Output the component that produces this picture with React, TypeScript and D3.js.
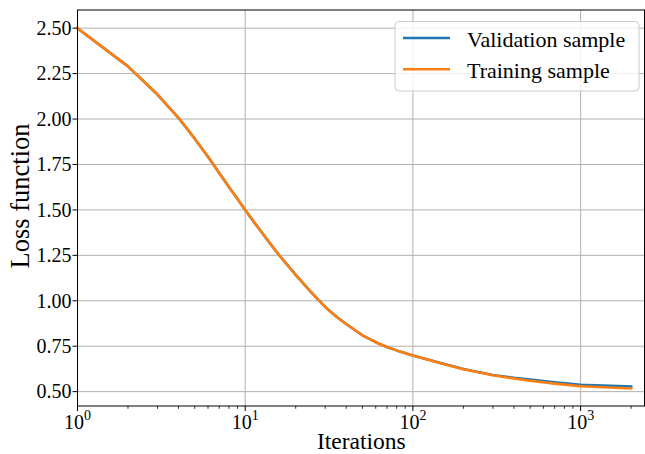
import React from "react";
import * as d3 from "d3";

const iterations = [1, 2, 3, 4, 5, 6, 7, 8, 9, 10, 12, 14, 16, 20, 25, 30, 35, 40, 50, 60, 70, 80, 100, 150, 200, 300, 400, 500, 700, 1000, 2000];
const trainingLoss = [2.5, 2.29, 2.135, 2.007, 1.892, 1.792, 1.703, 1.626, 1.56, 1.5, 1.4, 1.318, 1.249, 1.143, 1.042, 0.966, 0.912, 0.872, 0.81, 0.772, 0.746, 0.727, 0.699, 0.654, 0.623, 0.59, 0.572, 0.56, 0.544, 0.53, 0.518];
const validationLoss = [2.5, 2.29, 2.135, 2.007, 1.892, 1.792, 1.703, 1.626, 1.56, 1.5, 1.4, 1.318, 1.249, 1.143, 1.042, 0.966, 0.912, 0.872, 0.81, 0.772, 0.746, 0.727, 0.699, 0.655, 0.625, 0.592, 0.576, 0.566, 0.551, 0.538, 0.528];
const yTicks = [0.5, 0.75, 1.0, 1.25, 1.5, 1.75, 2.0, 2.25, 2.5];
const xMajorTicks = [1, 10, 100, 1000];
const xMajorExponents = ["0", "1", "2", "3"];
const seriesNames = ["Validation sample", "Training sample"];
const seriesColors = ["#1f77b4", "#ff7f0e"];

const W = 645;
const H = 454;
const M = { left: 77.5, right: 645, top: 10, bottom: 406 };
const FONT = "'Liberation Serif', 'Times New Roman', serif";

export default function App() {
  const x = d3.scaleLog().domain([1, 2420]).range([M.left, M.right]);
  const y = d3.scaleLinear().domain([0.421, 2.6]).range([M.bottom, M.top]);

  const minorTicks: number[] = [];
  for (let dec = 1; dec <= 1000; dec *= 10) {
    for (let k = 2; k <= 9; k++) {
      const v = dec * k;
      if (v <= 2420) minorTicks.push(v);
    }
  }

  const line = d3
    .line<number>()
    .x((_, i) => x(iterations[i]))
    .y((d) => y(d));

  const series = [validationLoss, trainingLoss];

  return (
    <svg width={W} height={H} style={{ position: "absolute", left: 0, top: 0 }} fontFamily={FONT}>
      <rect x={0} y={0} width={W} height={H} fill="white" />
      {/* grid */}
      {xMajorTicks.map((t) => (
        <line key={"gx" + t} x1={x(t)} x2={x(t)} y1={M.top} y2={M.bottom} stroke="#b0b0b0" strokeWidth={1} />
      ))}
      {yTicks.map((t) => (
        <line key={"gy" + t} x1={M.left} x2={M.right} y1={y(t)} y2={y(t)} stroke="#b0b0b0" strokeWidth={1} />
      ))}
      {/* lines */}
      {series.map((s, i) => (
        <path key={"s" + i} d={line(s) || ""} fill="none" stroke={seriesColors[i]} strokeWidth={2.6} strokeLinejoin="round" strokeLinecap="square" />
      ))}
      {/* spines */}
      <rect x={M.left} y={M.top} width={M.right - M.left - 0.5} height={M.bottom - M.top} fill="none" stroke="#000" strokeWidth={1} />
      {/* y ticks */}
      {yTicks.map((t) => (
        <g key={"yt" + t}>
          <line x1={M.left - 5} x2={M.left} y1={y(t)} y2={y(t)} stroke="#000" strokeWidth={1} />
          <text x={M.left - 6} y={y(t)} dy="0.34em" textAnchor="end" fontSize={20}>
            {t.toFixed(2)}
          </text>
        </g>
      ))}
      {/* x ticks */}
      {minorTicks.map((t) => (
        <line key={"mt" + t} x1={x(t)} x2={x(t)} y1={M.bottom} y2={M.bottom + 2.8} stroke="#000" strokeWidth={0.8} />
      ))}
      {xMajorTicks.map((t, i) => (
        <g key={"xt" + t}>
          <line x1={x(t)} x2={x(t)} y1={M.bottom} y2={M.bottom + 5} stroke="#000" strokeWidth={1} />
          <text x={x(t)} y={428.5} textAnchor="middle" fontSize={20}>
            10
            <tspan dy={-9} fontSize={14}>
              {xMajorExponents[i]}
            </tspan>
          </text>
        </g>
      ))}
      {/* axis labels */}
      <text x={(M.left + M.right) / 2} y={448.5} textAnchor="middle" fontSize={23.5}>
        Iterations
      </text>
      <text transform={`translate(28.5, 196) rotate(-90)`} textAnchor="middle" fontSize={26.5}>
        Loss function
      </text>
      {/* legend */}
      <rect x={395} y={21.5} width={244} height={69.5} rx={4} fill="white" fillOpacity={0.8} stroke="#cccccc" strokeWidth={1} />
      {seriesNames.map((n, i) => (
        <g key={"lg" + i}>
          <line x1={403} x2={450} y1={38 + i * 31.3} y2={38 + i * 31.3} stroke={seriesColors[i]} strokeWidth={2.6} />
          <text x={467} y={46.5 + i * 31.3} fontSize={22}>
            {n}
          </text>
        </g>
      ))}
    </svg>
  );
}
